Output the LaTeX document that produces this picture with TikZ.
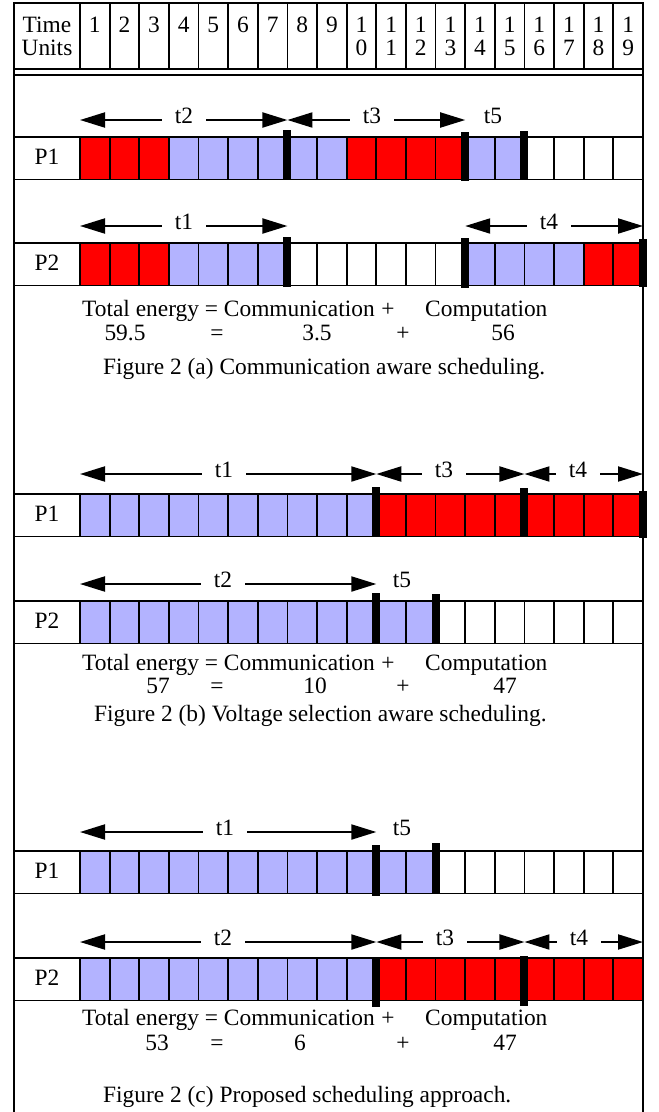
\documentclass[tikz,border=0pt]{standalone}
\usepackage{fontspec}
\setmainfont{Liberation Serif}
\usetikzlibrary{arrows.meta}
\definecolor{cr}{RGB}{255,0,0}
\definecolor{cb}{RGB}{179,179,255}
\definecolor{cw}{RGB}{255,255,255}
% width of one time unit and x position of a time boundary
\def\cellw{29.6316}
\newcommand\cx[1]{80+\cellw*(#1)}
% one processor row: name, top y, label, list of 19 cell colours
\newcommand\procrow[4]{%
  \foreach \c [count=\i from 0] in {#4} {
    \filldraw[grid, fill=\c] ({\cx{\i}},#2) rectangle ({\cx{\i+1}},#2+42.5);
  }
  \draw[grid] (14,#2) -- ({\cx{0}},#2) (14,#2+42.5) -- ({\cx{0}},#2+42.5);
  \node[txt] (#1) at (47,#2+27) {#3};
}
% thick task boundary marker: boundary index, top y, bottom y
\newcommand\tbar[3]{\fill ({\cx{#1}-4},#2) rectangle ({\cx{#1}+4},#3);}
% task span: name, from boundary, to boundary, arrow y, label, label x
\newcommand\tspan[6]{%
  \node[lbl] (#1) at (#6,#4+3) {#5};
  \coordinate (#1-l) at ({\cx{#2}},#4);
  \coordinate (#1-r) at ({\cx{#3}},#4);
  \draw[arr] (#1.west |- #1-l) -- (#1-l);
  \draw[arr] (#1.east |- #1-r) -- (#1-r);
}
\begin{document}
\begin{tikzpicture}[x=1pt,y=-1pt,
  frame/.style={line width=2pt},
  grid/.style={line width=1.8pt},
  arr/.style={line width=2pt,-{Triangle[length=25pt,width=15pt]}},
  txt/.style={font=\fontsize{23.4}{27}\selectfont, inner sep=0pt, anchor=base},
  lbl/.style={font=\fontsize{23.4}{27}\selectfont, inner xsep=13pt, inner ysep=0pt, anchor=base}]
\useasboundingbox (0,0) rectangle (659,1112);
\fill[white] (0,0) rectangle (659,1112);

% outer frame and header
\draw[frame] (14,1112) -- (14,3) -- (643,3) -- (643,1112);
\draw[frame] (14,69) -- (643,69);
\draw[frame] (14,75) -- (643,75);
\foreach \i in {0,...,19} \draw[grid] ({\cx{\i}},3) -- ({\cx{\i}},69);
\node[txt] (time) at (47,32) {Time};
\node[txt] (units) at (47,55) {Units};
\foreach \i in {1,...,19} {
  \pgfmathtruncatemacro\lo{mod(\i,10)}
  \ifnum\i<10
    \node[txt] (h\i) at ({\cx{\i-0.5}},32) {\i};
  \else
    \node[txt] (h\i) at ({\cx{\i-0.5}},32) {1};
    \node[txt] (h\i b) at ({\cx{\i-0.5}},55) {\lo};
  \fi
}

% (a) communication aware scheduling
\procrow{pa1}{137}{P1}{cr,cr,cr,cb,cb,cb,cb,cb,cb,cr,cr,cr,cr,cb,cb,cw,cw,cw,cw}
\procrow{pa2}{243}{P2}{cr,cr,cr,cb,cb,cb,cb,cw,cw,cw,cw,cw,cw,cb,cb,cb,cb,cr,cr}
\tbar{7}{130}{180} \tbar{13}{132}{181} \tbar{15}{131}{180}
\tbar{7}{237}{287} \tbar{13}{238}{288} \tbar{19}{239}{287}
\tspan{ta2}{0}{7}{120}{t2}{184}
\tspan{ta3}{7}{13}{120}{t3}{372}
\node[lbl] (ta5) at (493,123) {t5};
\tspan{ta1}{0}{7}{226}{t1}{184}
\tspan{ta4}{13}{19}{226}{t4}{549}
\node[txt, anchor=base west] (ea) at (82,316) {Total energy = Communication};
\node[txt] (pa) at (388,316) {+};
\node[txt, anchor=base west] (ca) at (425,316) {Computation};
\node[txt] (ea2) at (125,340) {59.5};
\node[txt] (qa2) at (217,340) {=};
\node[txt] (ma2) at (317,340) {3.5};
\node[txt] (pa2) at (403,340) {+};
\node[txt] (ca2) at (503,340) {56};
\node[txt, anchor=base west] (fa) at (103,374) {Figure 2 (a) Communication aware scheduling.};

% (b) voltage selection aware scheduling
\procrow{pb1}{494}{P1}{cb,cb,cb,cb,cb,cb,cb,cb,cb,cb,cr,cr,cr,cr,cr,cr,cr,cr,cr}
\procrow{pb2}{601}{P2}{cb,cb,cb,cb,cb,cb,cb,cb,cb,cb,cb,cb,cw,cw,cw,cw,cw,cw,cw}
\tbar{10}{487}{537} \tbar{15}{488}{537} \tbar{19}{491}{538}
\tbar{10}{593}{644} \tbar{12}{594}{644}
\tspan{tb1}{0}{10}{474}{t1}{224}
\tspan{tb3}{10}{15}{474}{t3}{444}
\tspan{tb4}{15}{19}{474}{t4}{578}
\tspan{tb2}{0}{10}{584}{t2}{223}
\node[lbl] (tb5) at (402,587) {t5};
\node[txt, anchor=base west] (eb) at (82,670) {Total energy = Communication};
\node[txt] (pb) at (388,670) {+};
\node[txt, anchor=base west] (cb) at (425,670) {Computation};
\node[txt] (eb2) at (158,693) {57};
\node[txt] (qb2) at (217,693) {=};
\node[txt] (mb2) at (315,693) {10};
\node[txt] (pb2) at (403,693) {+};
\node[txt] (cb2) at (505,693) {47};
\node[txt, anchor=base west] (fb) at (94,721) {Figure 2 (b) Voltage selection aware scheduling.};

% (c) proposed scheduling approach
\procrow{pc1}{851}{P1}{cb,cb,cb,cb,cb,cb,cb,cb,cb,cb,cb,cb,cw,cw,cw,cw,cw,cw,cw}
\procrow{pc2}{958}{P2}{cb,cb,cb,cb,cb,cb,cb,cb,cb,cb,cr,cr,cr,cr,cr,cr,cr,cr,cr}
\tbar{10}{845}{896} \tbar{12}{843}{894}
\tbar{10}{957}{1007} \tbar{15}{956}{1006}
\tspan{tc1}{0}{10}{832}{t1}{225}
\node[lbl] (tc5) at (402,835) {t5};
\tspan{tc2}{0}{10}{942}{t2}{223}
\tspan{tc3}{10}{15}{942}{t3}{445}
\tspan{tc4}{15}{19}{942}{t4}{579}
\node[txt, anchor=base west] (ec) at (82,1025) {Total energy = Communication};
\node[txt] (pc) at (388,1025) {+};
\node[txt, anchor=base west] (cc) at (425,1025) {Computation};
\node[txt] (ec2) at (157,1050) {53};
\node[txt] (qc2) at (217,1050) {=};
\node[txt] (mc2) at (300,1050) {6};
\node[txt] (pc2) at (403,1050) {+};
\node[txt] (cc2) at (505,1050) {47};
\node[txt, anchor=base west] (fc) at (103,1102) {Figure 2 (c) Proposed scheduling approach.};
\end{tikzpicture}
\end{document}
